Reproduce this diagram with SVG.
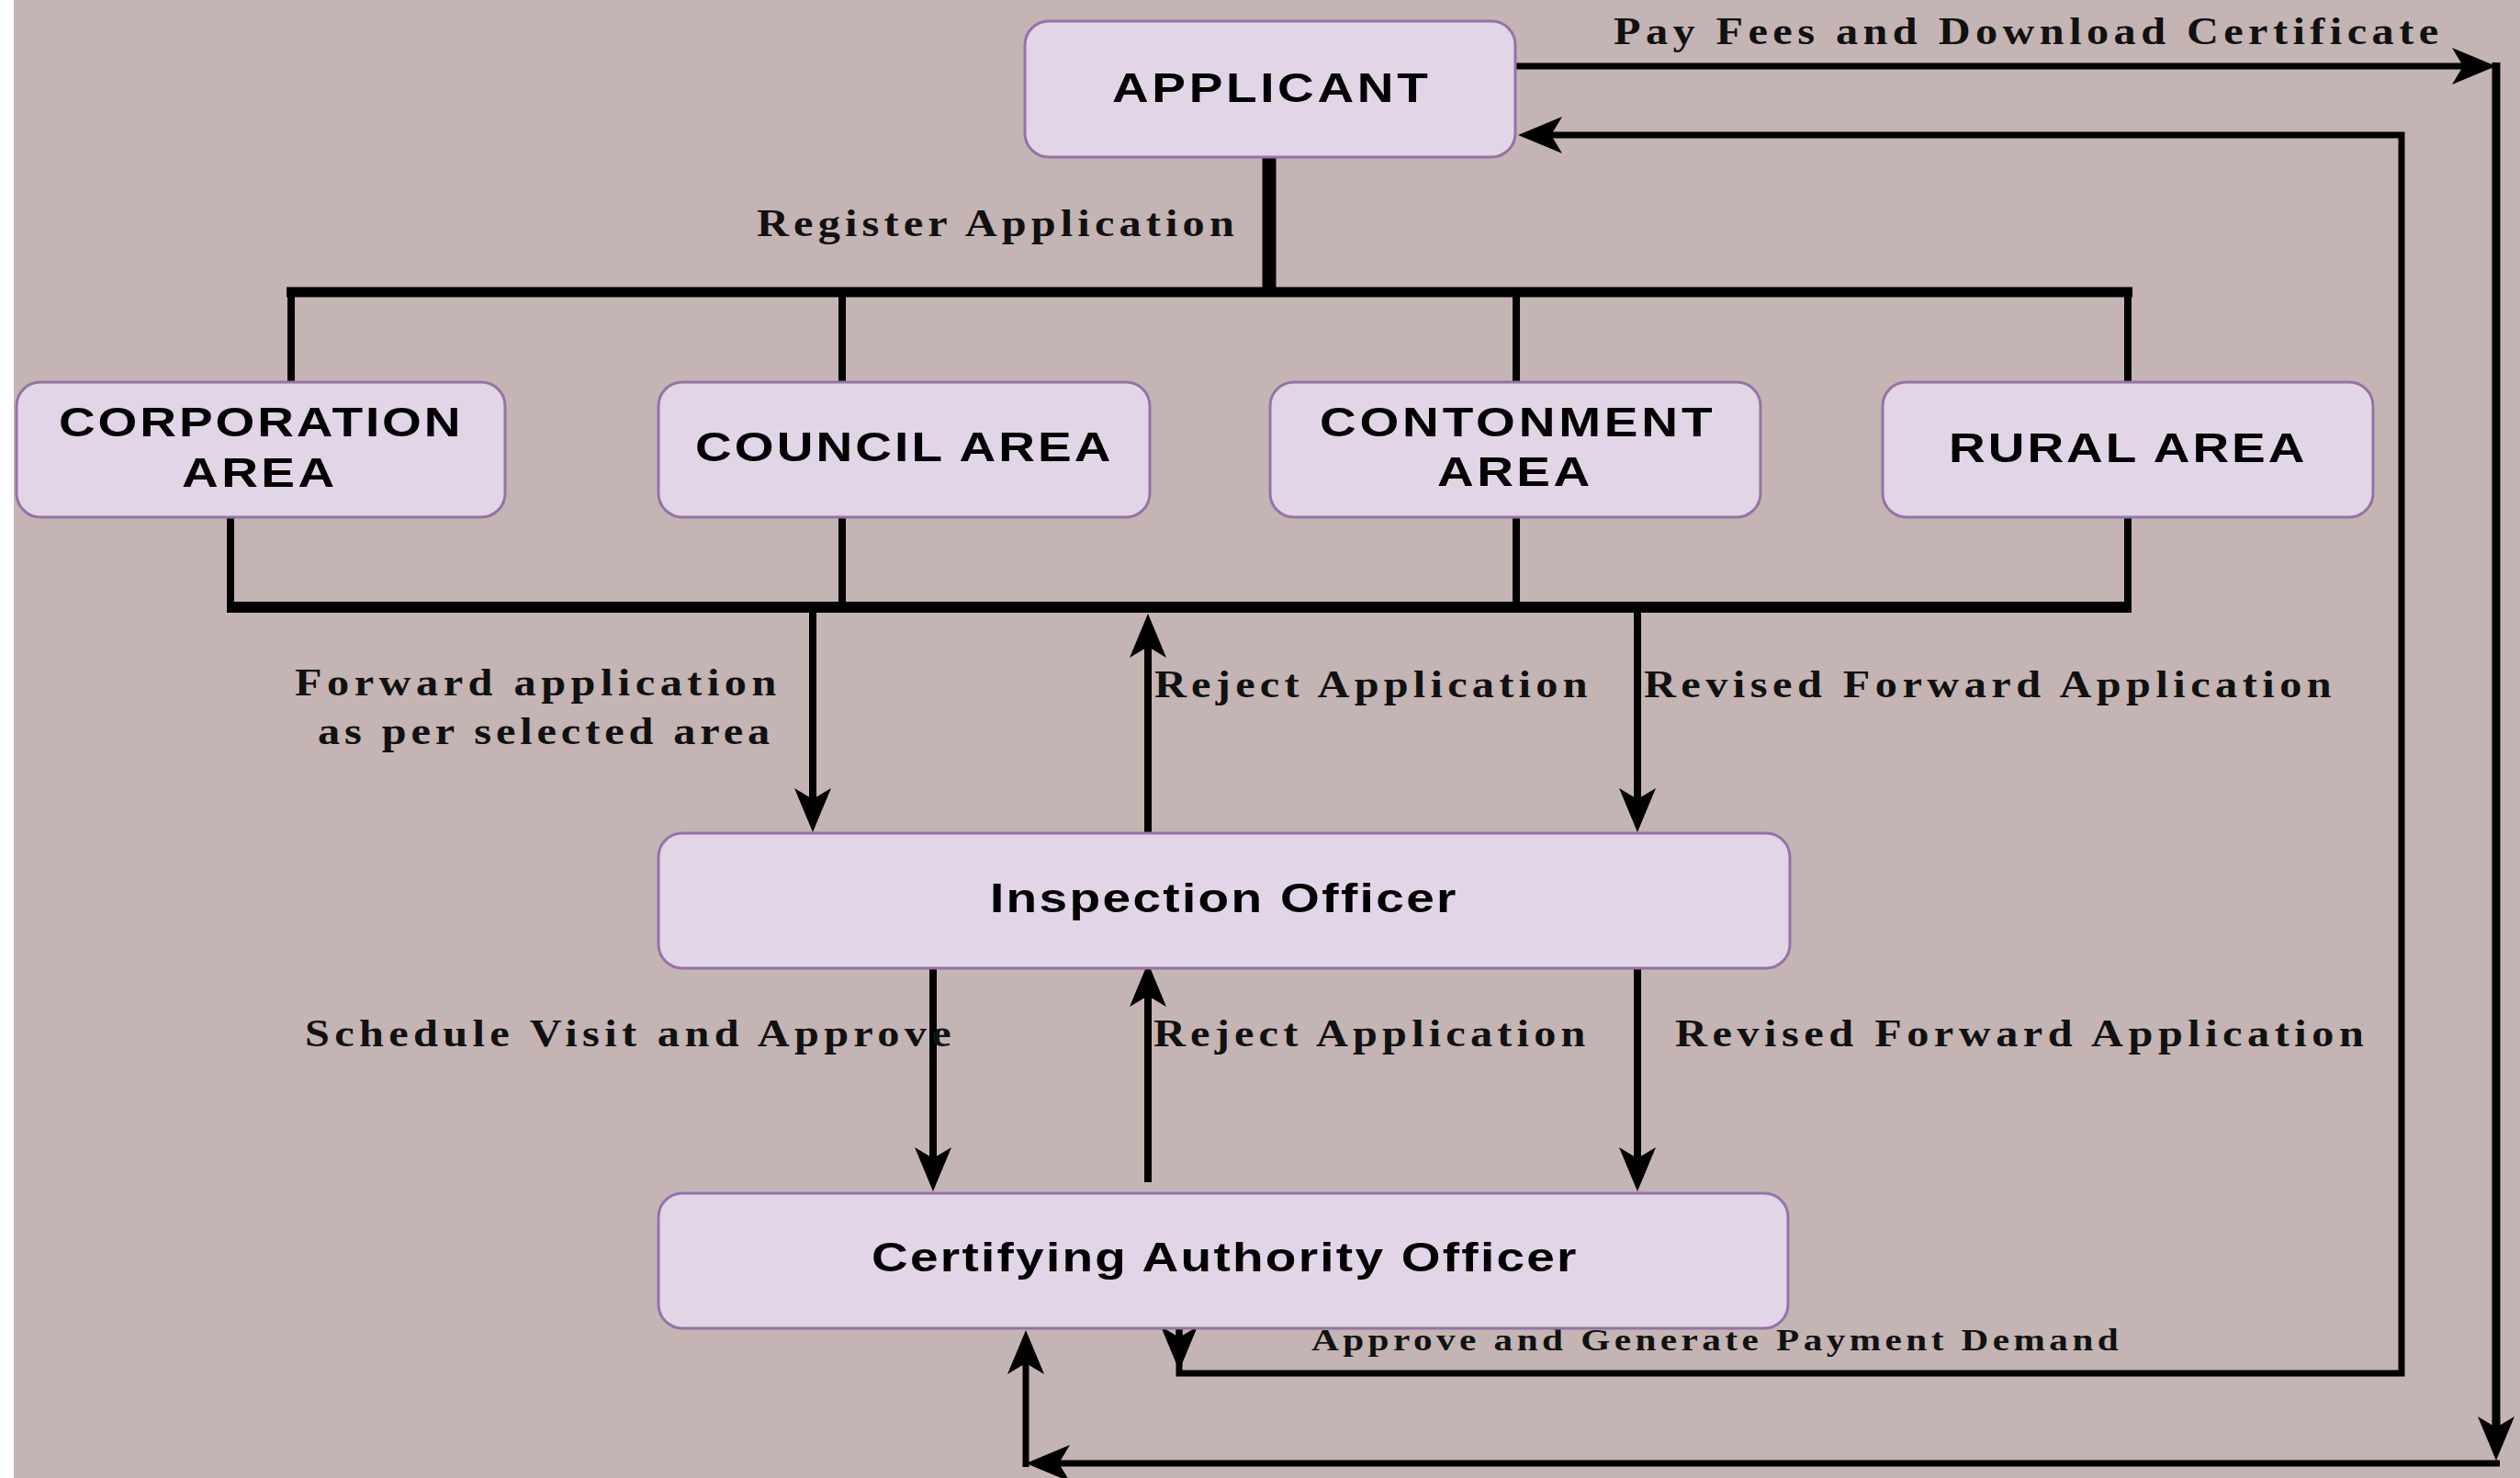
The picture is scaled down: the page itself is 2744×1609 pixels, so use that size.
<svg xmlns="http://www.w3.org/2000/svg" width="2744" height="1609" viewBox="0 0 2744 1609">
<style>
.bg{fill:#c4b4b4}
.box{fill:#e1d5e7;stroke:#9673a6;stroke-width:3}
.nt{font-family:"Liberation Sans",Arial,sans-serif;font-weight:bold;font-size:44px;fill:#000}
.lb{font-family:"Liberation Serif","Times New Roman",serif;font-weight:bold;font-size:42px;fill:#111}
.lbs{font-family:"Liberation Serif","Times New Roman",serif;font-weight:bold;font-size:33px;fill:#111}
.ln{fill:none;stroke:#000;stroke-linejoin:miter}
</style>
<defs>
<marker id="ah" viewBox="0 0 48 40" refX="18" refY="20" markerWidth="48" markerHeight="40" markerUnits="userSpaceOnUse" orient="auto">
<path d="M0,0 L48,20 L0,40 L12,20 Z" fill="#000"/>
</marker>
</defs>
<rect x="0" y="0" width="2744" height="1609" fill="#ffffff"/>
<rect class="bg" x="15" y="0" width="2729" height="1609"/>

<g id="connectors">
<line class="ln" x1="1382" y1="171" x2="1382" y2="318" stroke-width="15"/>
<line class="ln" x1="312" y1="318" x2="2322" y2="318" stroke-width="11"/>
<line class="ln" x1="317" y1="318" x2="317" y2="416" stroke-width="8"/>
<line class="ln" x1="917" y1="318" x2="917" y2="416" stroke-width="8"/>
<line class="ln" x1="1651" y1="318" x2="1651" y2="416" stroke-width="8"/>
<line class="ln" x1="2317" y1="318" x2="2317" y2="416" stroke-width="8"/>
<line class="ln" x1="251" y1="563" x2="251" y2="661" stroke-width="8"/>
<line class="ln" x1="917" y1="563" x2="917" y2="661" stroke-width="8"/>
<line class="ln" x1="1651" y1="563" x2="1651" y2="661" stroke-width="8"/>
<line class="ln" x1="2317" y1="563" x2="2317" y2="661" stroke-width="8"/>
<line class="ln" x1="247" y1="661" x2="2321" y2="661" stroke-width="12"/>
<line class="ln" x1="885" y1="667" x2="885" y2="876" stroke-width="8" marker-end="url(#ah)"/>
<line class="ln" x1="1783" y1="667" x2="1783" y2="876" stroke-width="8" marker-end="url(#ah)"/>
<line class="ln" x1="1250" y1="907" x2="1250" y2="698" stroke-width="8" marker-end="url(#ah)"/>
<line class="ln" x1="1016" y1="1054" x2="1016" y2="1267" stroke-width="8" marker-end="url(#ah)"/>
<line class="ln" x1="1250" y1="1287" x2="1250" y2="1078" stroke-width="8" marker-end="url(#ah)"/>
<line class="ln" x1="1783" y1="1054" x2="1783" y2="1267" stroke-width="8" marker-end="url(#ah)"/>
<path class="ln" d="M1284,1446 V1495 H2615 V147 H1683" stroke-width="7" marker-end="url(#ah)"/>
<path class="ln" d="M1284,1446 V1462" stroke-width="7" marker-end="url(#ah)"/>
<path class="ln" d="M1650,72 H2688" stroke-width="7" marker-end="url(#ah)"/>
<path class="ln" d="M2718,68 V1560" stroke-width="9" marker-end="url(#ah)"/>
<path class="ln" d="M2722,1593 H1147" stroke-width="7" marker-end="url(#ah)"/>
<path class="ln" d="M1117,1597 V1478" stroke-width="7" marker-end="url(#ah)"/>
<text class="lb" transform="translate(824,257) scale(1.15,1)" textLength="452" lengthAdjust="spacing">Register Application</text>
<text class="lb" transform="translate(1757,48) scale(1.15,1)" textLength="781" lengthAdjust="spacing">Pay Fees and Download Certificate</text>
<text class="lb" transform="translate(321,757) scale(1.15,1)" textLength="456" lengthAdjust="spacing">Forward application</text>
<text class="lb" transform="translate(346,810) scale(1.15,1)" textLength="428" lengthAdjust="spacing">as per selected area</text>
<text class="lb" transform="translate(1257,759) scale(1.15,1)" textLength="410" lengthAdjust="spacing">Reject Application</text>
<text class="lb" transform="translate(1790,759) scale(1.15,1)" textLength="651" lengthAdjust="spacing">Revised Forward Application</text>
<text class="lb" transform="translate(332,1139) scale(1.15,1)" textLength="612" lengthAdjust="spacing">Schedule Visit and Approve</text>
<text class="lb" transform="translate(1256,1139) scale(1.15,1)" textLength="409" lengthAdjust="spacing">Reject Application</text>
<text class="lb" transform="translate(1824,1139) scale(1.15,1)" textLength="652" lengthAdjust="spacing">Revised Forward Application</text>
<text class="lbs" transform="translate(1428,1470) scale(1.25,1)" textLength="703" lengthAdjust="spacing">Approve and Generate Payment Demand</text>
</g>

<g id="applicant">
<rect class="box" x="1116" y="23" width="534" height="148" rx="26"/>
<text class="nt" transform="translate(1211,111) scale(1.25,1)" textLength="275" lengthAdjust="spacing">APPLICANT</text>
</g>
<g id="corporation">
<rect class="box" x="18" y="416" width="532" height="147" rx="26"/>
<text class="nt" transform="translate(64,475) scale(1.25,1)" textLength="350" lengthAdjust="spacing">CORPORATION</text>
<text class="nt" transform="translate(198,530) scale(1.25,1)" textLength="133" lengthAdjust="spacing">AREA</text>
</g>
<g id="council">
<rect class="box" x="717" y="416" width="535" height="147" rx="26"/>
<text class="nt" transform="translate(757,502) scale(1.25,1)" textLength="362" lengthAdjust="spacing">COUNCIL AREA</text>
</g>
<g id="contonment">
<rect class="box" x="1383" y="416" width="534" height="147" rx="26"/>
<text class="nt" transform="translate(1437,475) scale(1.25,1)" textLength="342" lengthAdjust="spacing">CONTONMENT</text>
<text class="nt" transform="translate(1565,529) scale(1.25,1)" textLength="133" lengthAdjust="spacing">AREA</text>
</g>
<g id="rural">
<rect class="box" x="2050" y="416" width="534" height="147" rx="26"/>
<text class="nt" transform="translate(2122,503) scale(1.25,1)" textLength="310" lengthAdjust="spacing">RURAL AREA</text>
</g>
<g id="inspection">
<rect class="box" x="717" y="907" width="1232" height="147" rx="26"/>
<text class="nt" transform="translate(1078,993) scale(1.25,1)" textLength="406" lengthAdjust="spacing">Inspection Officer</text>
</g>
<g id="certifying">
<rect class="box" x="717" y="1299" width="1230" height="147" rx="26"/>
<text class="nt" transform="translate(949,1384) scale(1.25,1)" textLength="614" lengthAdjust="spacing">Certifying Authority Officer</text>
</g>
</svg>
